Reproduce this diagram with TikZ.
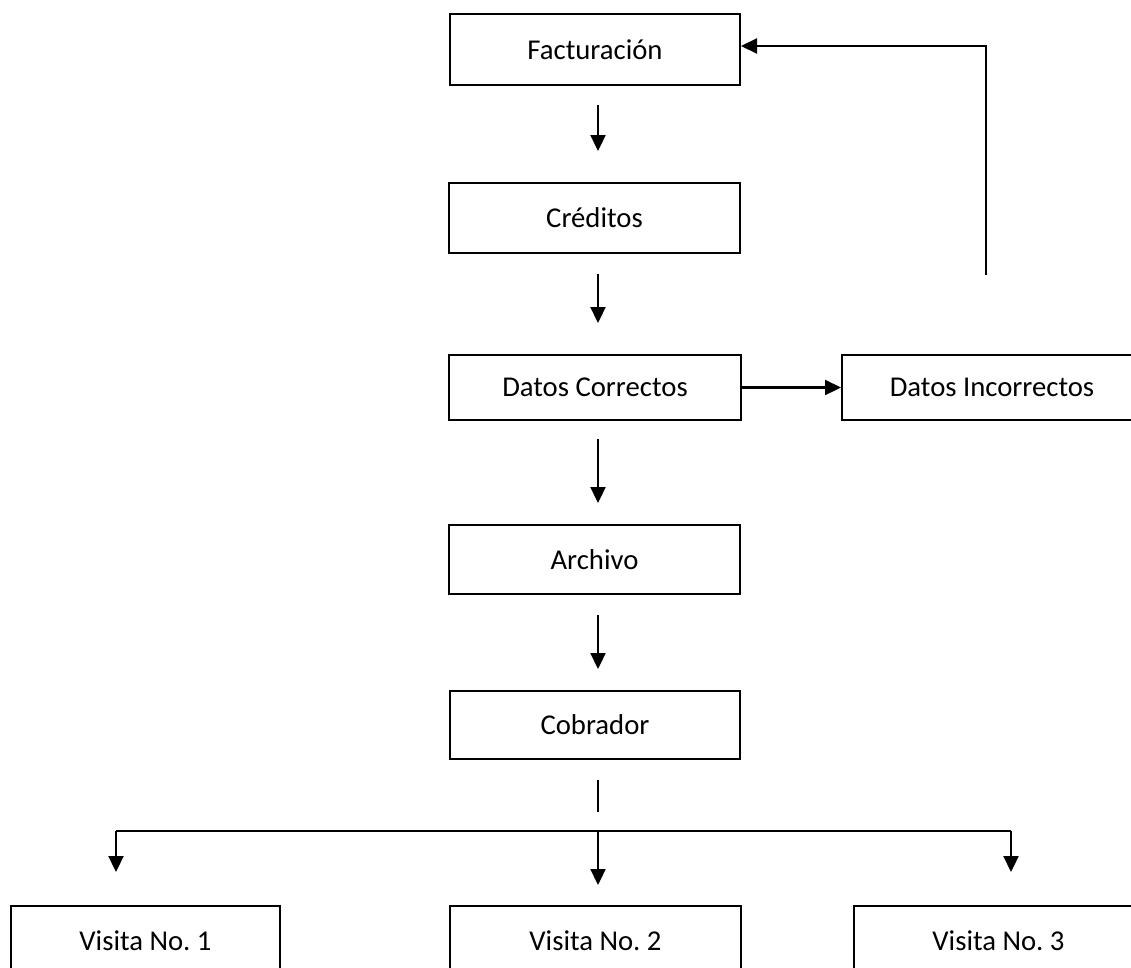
\documentclass[tikz,border=0pt]{standalone}
\usepackage{fontspec}
\setmainfont{Carlito}
\usetikzlibrary{arrows.meta}
\frenchspacing

\tikzset{
  box/.style={draw, line width=2pt, rectangle, minimum height=70pt,
    inner sep=0pt, font=\fontsize{28.7}{34}\selectfont},
  arr/.style={line width=2.2pt, -{Triangle[length=16pt,width=15pt]}},
  plain/.style={line width=2.2pt},
  hair/.style={line width=1.3pt}
}

\begin{document}
\begin{tikzpicture}[x=1pt,y=-1pt]
  \useasboundingbox (0,0) rectangle (1131,967);
  \clip (0,0) rectangle (1131,967);

  % main column
  \node[box, minimum width=290pt, minimum height=71pt] (fac) at (595,49.5) {Facturación};
  \node[box, minimum width=291pt] (cre) at (594.5,218) {Créditos};
  \node[box, minimum width=292pt, minimum height=65pt] (dc) at (595,387.5) {Datos Correctos};
  \node[box, minimum width=300pt, minimum height=65pt] (di) at (992,387.5) {Datos Incorrectos};
  \node[box, minimum width=291pt, minimum height=69pt] (arc) at (594.5,559.5) {Archivo};
  \node[box, minimum width=290pt, minimum height=68pt] (cob) at (595,725) {Cobrador};

  % visits
  \node[box, minimum width=269pt] (v1) at (145.5,941) {Visita No. 1};
  \node[box, minimum width=291pt] (v2) at (595.5,941) {Visita No. 2};
  \node[box, minimum width=289pt] (v3) at (998.5,941) {Visita No. 3};

  % helper coordinates
  \coordinate (col) at (598,0);
  \coordinate (f1) at (116,831);
  \coordinate (f2) at (598,831);
  \coordinate (f3) at (1011,831);
  \coordinate (fb) at (986,275);

  % downward flow
  \draw[arr, shorten <=19pt, shorten >=31pt] (fac.south -| col) -- (cre.north -| col);
  \draw[arr, shorten <=20pt, shorten >=31pt] (cre.south -| col) -- (dc.north -| col);
  \draw[arr, shorten <=18pt, shorten >=21pt] (dc.south -| col) -- (arc.north -| col);
  \draw[arr, shorten <=20pt, shorten >=21pt] (arc.south -| col) -- (cob.north -| col);

  % incorrect data and return to billing
  \draw[arr] (dc.east) -- (di.west);
  \draw[arr] (fb) |- ([yshift=3.5pt]fac.east);

  % distribution to visits
  \draw[hair, shorten <=20pt, shorten >=19pt] (cob.south -| col) -- (f2);
  \draw[plain] (f1) -- (f3);
  \draw[arr, shorten >=33pt] (f1) -- (f1 |- v1.north);
  \draw[arr, shorten >=20pt] (f2) -- (f2 |- v2.north);
  \draw[arr, shorten >=33pt] (f3) -- (f3 |- v3.north);
\end{tikzpicture}
\end{document}
